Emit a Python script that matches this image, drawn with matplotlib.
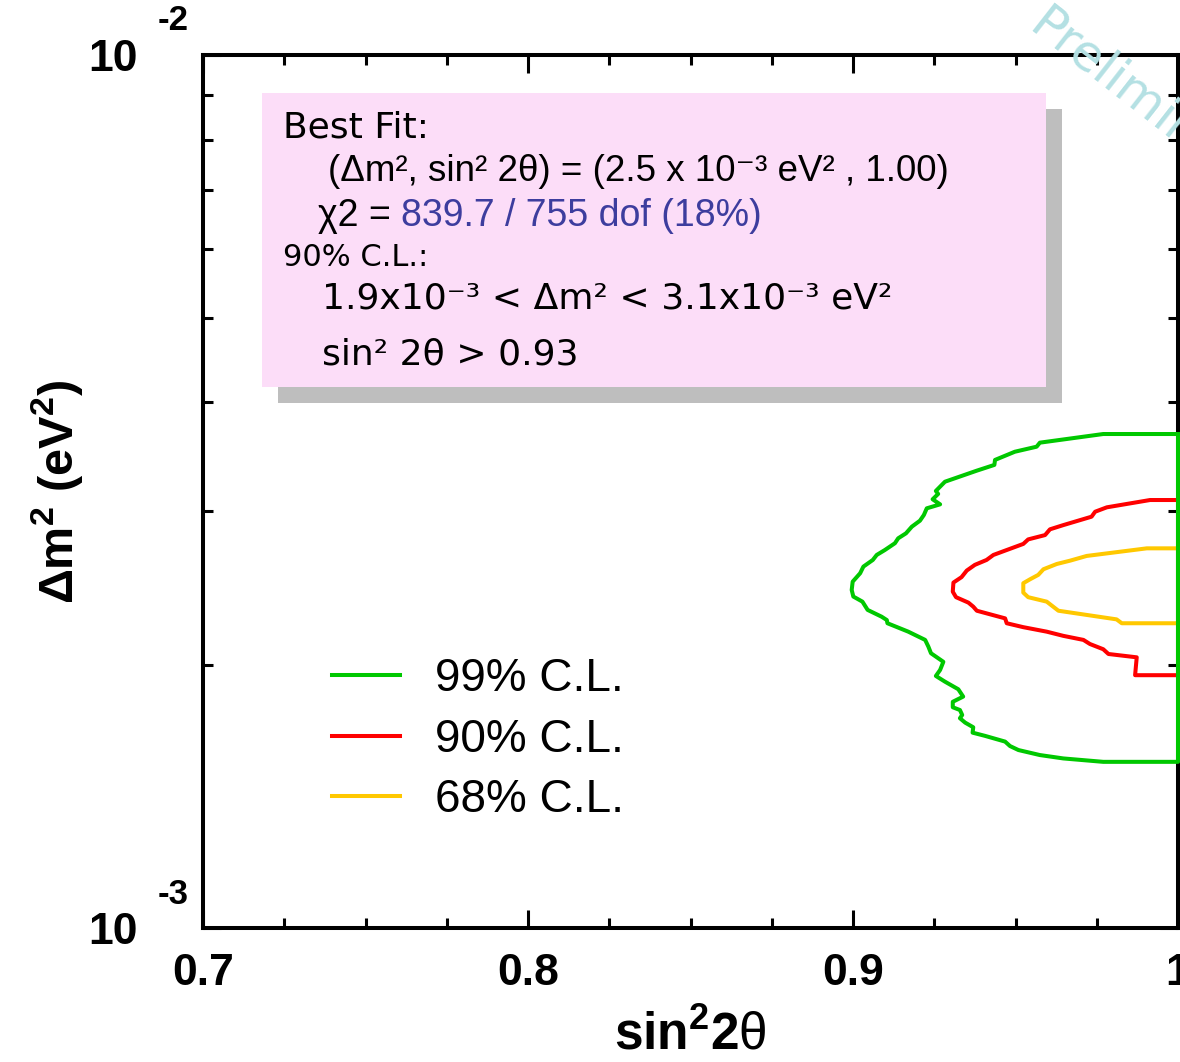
import numpy as np
import matplotlib
matplotlib.use("Agg")
import matplotlib.pyplot as plt
from matplotlib.patches import Rectangle
from matplotlib.ticker import LogLocator, NullFormatter

plt.rcParams["font.family"] = ["Liberation Sans", "DejaVu Sans"]
plt.rcParams["mathtext.fontset"] = "custom"
plt.rcParams["mathtext.rm"] = "Liberation Sans"
plt.rcParams["mathtext.bf"] = "Liberation Sans:bold"
plt.rcParams["mathtext.it"] = "Liberation Sans:italic"

# allowed regions: sin^2(2theta) vs dm^2 (in 1e-3 eV^2), traced from the top edge round to the bottom edge
cl99_x = [1.000, 0.977, 0.9575, 0.9565, 0.9498, 0.9437, 0.9435, 0.9381, 0.9283, 0.9255,
          0.9262, 0.9245, 0.9268, 0.9227, 0.9218, 0.9206, 0.9181, 0.9163, 0.9139, 0.9129,
          0.9098, 0.9073, 0.9061, 0.9032, 0.9022, 0.8999, 0.8996, 0.9001, 0.9029, 0.9045,
          0.9088, 0.9104, 0.9106, 0.9170, 0.9222, 0.9232, 0.9240, 0.9278, 0.9268, 0.9255,
          0.9283, 0.9324, 0.9339, 0.9307, 0.9307, 0.9329, 0.9336, 0.9329, 0.9345, 0.9370,
          0.9368, 0.9406, 0.9468, 0.9483, 0.9509, 0.9575, 0.9647, 0.9770, 1.000]
cl99_y = [3.68, 3.68, 3.597, 3.559, 3.512, 3.437, 3.392, 3.341, 3.245, 3.167,
          3.142, 3.098, 3.057, 3.025, 2.972, 2.928, 2.882, 2.832, 2.795, 2.759,
          2.710, 2.675, 2.640, 2.594, 2.549, 2.493, 2.439, 2.397, 2.365, 2.314,
          2.273, 2.253, 2.234, 2.185, 2.138, 2.100, 2.064, 2.018, 1.975, 1.944,
          1.915, 1.877, 1.841, 1.816, 1.790, 1.777, 1.754, 1.739, 1.719, 1.698,
          1.674, 1.660, 1.635, 1.616, 1.599, 1.578, 1.564, 1.550, 1.550]

cl90_x = [1.000, 0.9914, 0.9781, 0.9745, 0.9734, 0.9647, 0.9606, 0.9591, 0.9539, 0.9524,
          0.9473, 0.9432, 0.9411, 0.9375, 0.9350, 0.9334, 0.9309, 0.9307, 0.9317, 0.9355,
          0.9370, 0.9381, 0.9468, 0.9473, 0.9524, 0.9596, 0.9647, 0.9709, 0.9729, 0.9770,
          0.9786, 0.9873, 0.9868, 1.000]
cl90_y = [3.092, 3.092, 3.033, 2.998, 2.959, 2.894, 2.862, 2.819, 2.787, 2.754,
          2.710, 2.675, 2.640, 2.606, 2.567, 2.523, 2.487, 2.428, 2.393, 2.359,
          2.334, 2.309, 2.263, 2.234, 2.211, 2.185, 2.161, 2.138, 2.115, 2.086,
          2.060, 2.042, 1.948, 1.948]

cl68_x = [1.000, 0.9904, 0.9719, 0.9668, 0.9627, 0.9586, 0.9570, 0.9545, 0.9524, 0.9524,
          0.9539, 0.9596, 0.9632, 0.9811, 0.9827, 1.000]
cl68_y = [2.722, 2.722, 2.668, 2.635, 2.612, 2.576, 2.538, 2.509, 2.483, 2.422,
          2.393, 2.365, 2.309, 2.257, 2.234, 2.234]

levels = ["99% C.L.", "90% C.L.", "68% C.L."]
colors = ["#00C800", "#FF0000", "#FFC800"]

x_major = [0.7, 0.8, 0.9, 1.0]
x_labels = ["0.7", "0.8", "0.9", "1"]

fig = plt.figure(figsize=(11.8, 10.62), dpi=100)
ax = fig.add_axes([203 / 1180, 1 - 928 / 1062, 975 / 1180, 873 / 1062])

# yellow first, green last so the green edge sits on top along sin^2 2theta = 1
lines = {}
for xs, ys, c, lab in reversed(list(zip([cl99_x, cl90_x, cl68_x],
                                        [cl99_y, cl90_y, cl68_y], colors, levels))):
    xs = np.append(xs, xs[0])
    ys = np.append(ys, ys[0]) * 1e-3
    lines[lab], = ax.plot(xs, ys, color=c, lw=2.9, label=lab, clip_on=False, zorder=5)

ax.set_xlim(0.7, 1.0)
ax.set_yscale("log")
ax.set_ylim(1e-3, 1e-2)

ax.set_xticks(x_major)
ax.set_xticklabels(x_labels)
minor_x = [v for v in np.arange(0.725, 1.0, 0.025) if abs(v * 10 - round(v * 10)) > 1e-6]
ax.set_xticks(minor_x, minor=True)
ax.set_yticks([1e-3, 1e-2])
ax.set_yticklabels(["10", "10"])
ax.yaxis.set_minor_locator(LogLocator(subs=range(2, 10)))
ax.yaxis.set_minor_formatter(NullFormatter())

ax.tick_params(which="both", direction="in", top=True, right=True, width=2.2)
ax.tick_params(which="major", length=13, labelsize=32)
ax.tick_params(which="minor", length=7)
ax.tick_params(axis="x", pad=18)
ax.tick_params(axis="y", pad=47)
for lbl in ax.get_xticklabels() + ax.get_yticklabels():
    lbl.set_fontweight("bold")
for sp in ax.spines.values():
    sp.set_linewidth(2.9)

# exponents of the y tick labels
for val, exp in [(1e-2, "-2"), (1e-3, "-3")]:
    ax.annotate(exp, xy=(0, val), xycoords=("axes fraction", "data"),
                xytext=(-45, 34), textcoords="offset pixels", ha="left", va="center",
                fontsize=25, fontweight="bold", annotation_clip=False)

ax.set_xlabel(r"$\mathbf{sin^{2}2}\mathrm{\theta}$", fontsize=37, labelpad=12)
ax.set_ylabel(r"$\mathbf{\Delta m^{2}\ (eV^{2})}$", fontsize=35, labelpad=2)

# best-fit box with drop shadow
ax.add_patch(Rectangle((0.0769, 0.6014), 0.8041, 0.3368, transform=ax.transAxes,
                       facecolor="#BEBEBE", edgecolor="none", zorder=2))
ax.add_patch(Rectangle((0.0605, 0.6197), 0.8041, 0.3368, transform=ax.transAxes,
                       facecolor="#FCDDF8", edgecolor="none", zorder=3))

dv = ["DejaVu Sans"]
ax.text(0.0821, 0.9164, "Best Fit:", transform=ax.transAxes, va="center",
        fontsize=26, family=dv, zorder=4)
ax.text(0.1282, 0.8660, "(Δm², sin² 2θ) = (2.5 x 10⁻³ eV² , 1.00)", transform=ax.transAxes,
        va="center", fontsize=26.5, zorder=4)
chi = ax.text(0.1179, 0.8156, "χ2 = ", transform=ax.transAxes, va="center",
              fontsize=27, zorder=4)
ax.annotate("839.7 / 755 dof (18%)", xy=(1, 0), xycoords=chi, va="bottom", ha="left",
            fontsize=27, color="#3D3D9E", zorder=4)
ax.text(0.0821, 0.7675, "90% C.L.:", transform=ax.transAxes, va="center",
        fontsize=22, family=dv, zorder=4)
ax.text(0.1221, 0.7216, "1.9x10⁻³ < Δm² < 3.1x10⁻³ eV²", transform=ax.transAxes,
        va="center", fontsize=26, family=dv, zorder=4)
ax.text(0.1221, 0.6564, "sin² 2θ > 0.93", transform=ax.transAxes, va="center",
        fontsize=26, family=dv, zorder=4)

ax.legend(handles=[lines[l] for l in levels], loc="upper left",
          bbox_to_anchor=(0.1323, 0.310), frameon=False,
          fontsize=33, handlelength=1.48, handletextpad=0.76, labelspacing=0.36,
          borderpad=0, borderaxespad=0)

fig.text(1026 / 1180, 1 - 30 / 1062, "Preliminary", rotation=-38, rotation_mode="anchor",
         ha="left", va="baseline", fontsize=36, color="#B4E0E3", family="DejaVu Sans")

fig.savefig("out.png", dpi=100)
